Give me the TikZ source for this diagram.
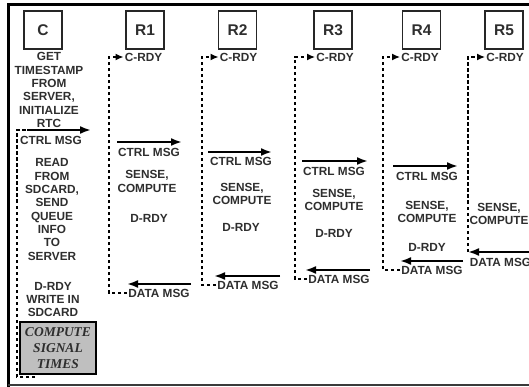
\documentclass[tikz,border=0pt]{standalone}
\usepackage{fontspec}
\setmainfont{Liberation Sans}
\newfontfamily\boxserif{Liberation Serif}
\usetikzlibrary{arrows.meta,positioning}
\definecolor{txtgray}{HTML}{2E2E2E}
\definecolor{boxgray}{HTML}{BFBFBF}
\definecolor{framegray}{HTML}{3A3A3A}

\begin{document}
\begin{tikzpicture}[x=1pt, y=-1pt,
        every node/.style={font=\fontsize{11.8}{13.3}\selectfont\bfseries, text=txtgray},
        dev/.style={draw=black!85, line width=1.5pt, minimum size=38pt, inner sep=0pt,
                font=\fontsize{15.5}{18}\selectfont\bfseries},
        lbl/.style={inner sep=1pt, align=center},
        msg/.style={-{Latex[length=11pt,width=8pt]}, line width=2pt},
        rdy/.style={-{Latex[length=8pt,width=7pt]}, line width=1.6pt, dash pattern=on 3.5pt off 2.5pt},
        rdyline/.style={line width=1.6pt, dash pattern=on 3.5pt off 2.5pt},
        sigbox/.style={draw=black, line width=2pt, fill=boxgray, minimum width=76pt,
                minimum height=52pt, inner sep=0pt, align=center,
                font=\fontsize{13.5}{16}\selectfont\boxserif\bfseries\itshape}
    ]
    \useasboundingbox (0,0) rectangle (529,387);
    \clip (0,0) rectangle (529,387);

    % ================= frame =================
    \draw[line width=3pt] (8,390) -- (8,5) -- (535,5);
    \draw[framegray, line width=1.5pt] (8,385) -- (535,385);

    % ================= devices =================
    \node[dev] (c)  at (43,30)    {C};
    \node[dev] (r1) at (145,30)   {R1};
    \node[dev] (r2) at (237.5,30) {R2};
    \node[dev] (r3) at (333,30)   {R3};
    \node[dev] (r4) at (421.5,30) {R4};
    \node[dev] (r5) at (504,30)   {R5};

    % ================= coordinator C =================
    \node[lbl] (init) at (49,90) {GET\\TIMESTAMP\\FROM\\SERVER,\\INITIALIZE\\RTC};
    \coordinate (ctrl0s) at (27,130);
    \coordinate (ctrl0e) at (91,130);
    \draw[msg] (ctrl0s) -- (ctrl0e);
    \node[lbl] (ctrl0) at (51,140) {CTRL MSG};
    \node[lbl] (queue) at (52,209.5) {READ\\FROM\\SDCARD,\\SEND\\QUEUE\\INFO\\TO\\SERVER};
    \node[lbl] (write) at (53,299.5) {D-RDY\\WRITE IN\\SDCARD};
    \node[sigbox] (signal) at (58,348) {COMPUTE\\SIGNAL\\TIMES};
    \coordinate (loop0)   at (17,377);
    \coordinate (loopend) at (35,377);
    \draw[rdyline] (loopend) -- (loop0) |- (ctrl0s);

    % ================= R1 =================
    \node[lbl] (crdy1) at (143.5,57) {C-RDY};
    \coordinate (ctrl1s) at (117,142);
    \coordinate (ctrl1e) at (182,142);
    \draw[msg] (ctrl1s) -- (ctrl1e);
    \node[lbl] (ctrl1) at (149,152) {CTRL MSG};
    \node[lbl] (work1) at (147,181.5) {SENSE,\\COMPUTE};
    \node[lbl] (drdy1) at (149,218) {D-RDY};
    \coordinate (data1s) at (191,284);
    \coordinate (data1e) at (127,284);
    \draw[msg] (data1s) -- (data1e);
    \node[lbl] (data1) at (159,293) {DATA MSG};
    \coordinate (up1) at (109,57);
    \draw[rdy] (data1.west) -| (up1) -- (crdy1.west);

    % ================= R2 =================
    \node[lbl] (crdy2) at (238.5,57) {C-RDY};
    \coordinate (ctrl2s) at (208,152);
    \coordinate (ctrl2e) at (272,152);
    \draw[msg] (ctrl2s) -- (ctrl2e);
    \node[lbl] (ctrl2) at (241,161) {CTRL MSG};
    \node[lbl] (work2) at (242,194) {SENSE,\\COMPUTE};
    \node[lbl] (drdy2) at (241,227) {D-RDY};
    \coordinate (data2s) at (280,276);
    \coordinate (data2e) at (214,276);
    \draw[msg] (data2s) -- (data2e);
    \node[lbl] (data2) at (248,285) {DATA MSG};
    \coordinate (up2) at (202,57);
    \draw[rdy] (data2.west) -| (up2) -- (crdy2.west);

    % ================= R3 =================
    \node[lbl] (crdy3) at (335,57) {C-RDY};
    \coordinate (ctrl3s) at (302,161);
    \coordinate (ctrl3e) at (368,161);
    \draw[msg] (ctrl3s) -- (ctrl3e);
    \node[lbl] (ctrl3) at (334,171) {CTRL MSG};
    \node[lbl] (work3) at (334,200) {SENSE,\\COMPUTE};
    \node[lbl] (drdy3) at (334,233) {D-RDY};
    \coordinate (data3s) at (370,270);
    \coordinate (data3e) at (305,270);
    \draw[msg] (data3s) -- (data3e);
    \node[lbl] (data3) at (339,279) {DATA MSG};
    \coordinate (up3) at (295,57);
    \draw[rdy] (data3.west) -| (up3) -- (crdy3.west);

    % ================= R4 =================
    \node[lbl] (crdy4) at (420,57) {C-RDY};
    \coordinate (ctrl4s) at (393,166);
    \coordinate (ctrl4e) at (458,166);
    \draw[msg] (ctrl4s) -- (ctrl4e);
    \node[lbl] (ctrl4) at (427,176) {CTRL MSG};
    \node[lbl] (work4) at (427,212) {SENSE,\\COMPUTE};
    \node[lbl] (drdy4) at (427,247) {D-RDY};
    \coordinate (data4s) at (463,261);
    \coordinate (data4e) at (400,261);
    \draw[msg] (data4s) -- (data4e);
    \node[lbl] (data4) at (432,270) {DATA MSG};
    \coordinate (up4) at (383,57);
    \draw[rdy] (data4.west) -| (up4) -- (crdy4.west);

    % ================= R5 =================
    \node[lbl] (crdy5) at (505,57) {C-RDY};
    \node[lbl] (work5) at (499,214) {SENSE,\\COMPUTE};
    \coordinate (data5s) at (545,252);
    \coordinate (data5e) at (468,252);
    \draw[msg] (data5s) -- (data5e);
    \node[lbl] (data5) at (500.5,262) {DATA MSG};
    \coordinate (up5) at (468,57);
    \draw[rdy] (data5e) -- (up5) -- (crdy5.west);

\end{tikzpicture}
\end{document}
